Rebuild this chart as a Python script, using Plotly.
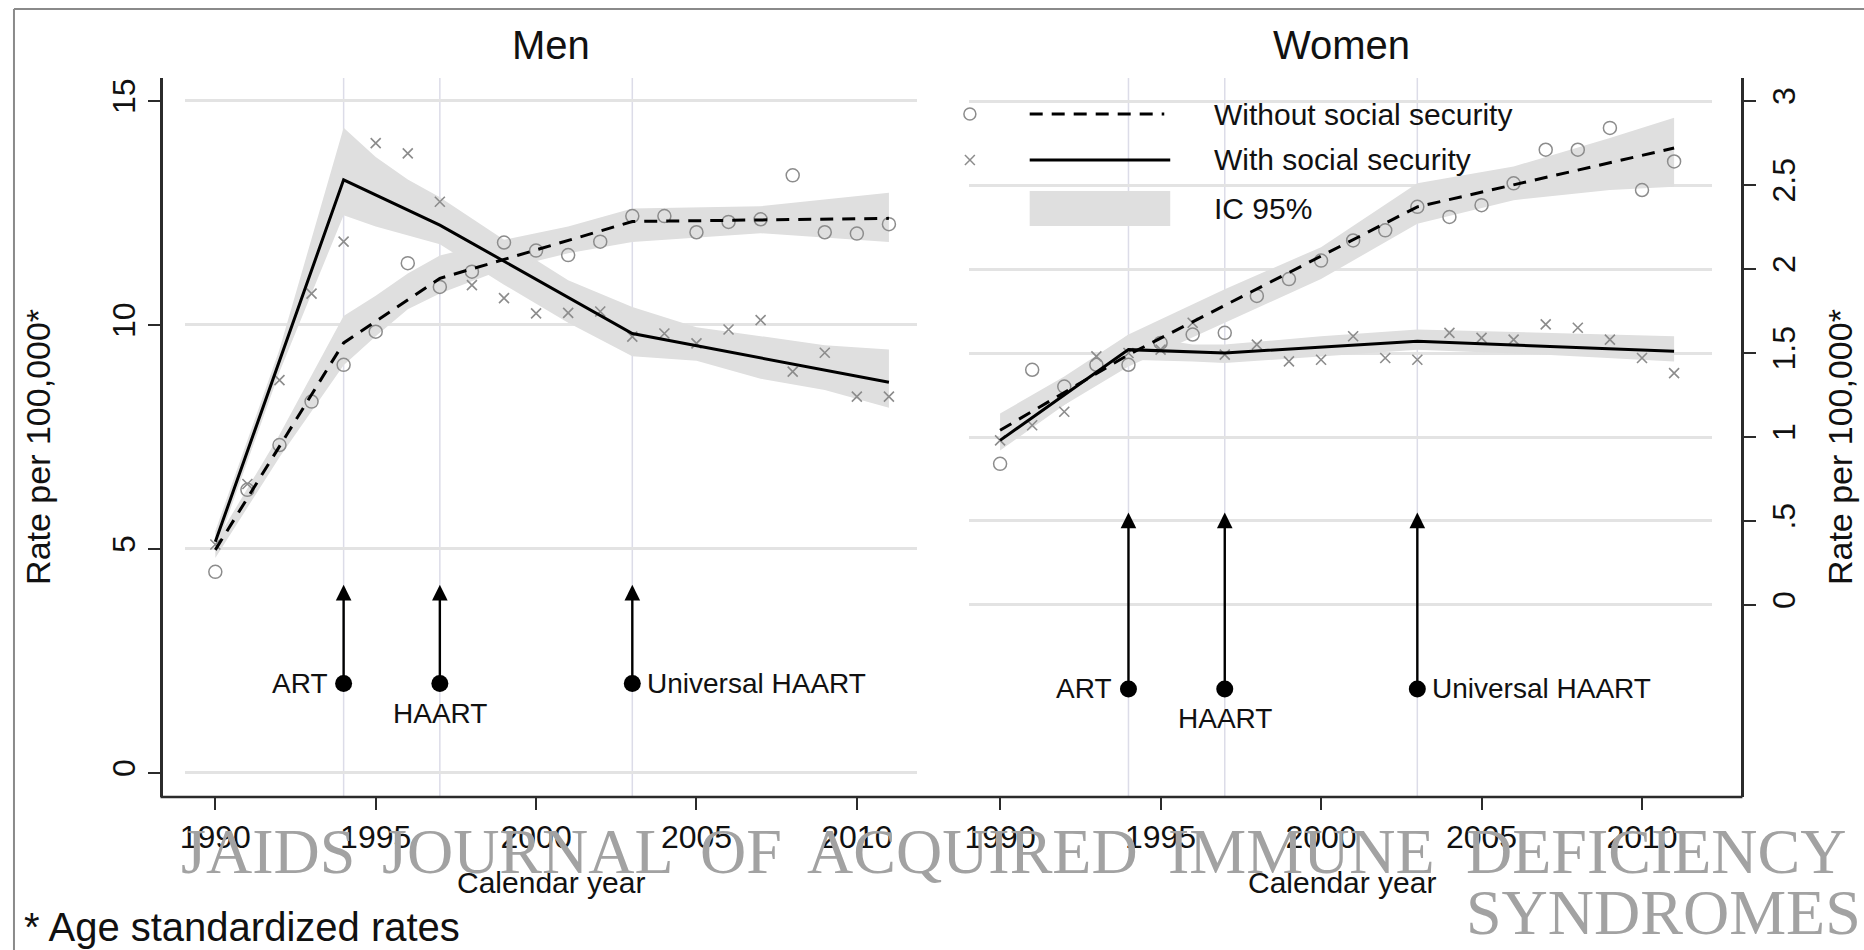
import plotly.graph_objects as go

W, H = 1864, 950

# ---------------- data ----------------
years = list(range(1990, 2012))

men_without = [4.49, 6.32, 7.32, 8.29, 9.11, 9.85, 11.38, 10.85, 11.19, 11.84, 11.66,
               11.56, 11.86, 12.43, 12.43, 12.07, 12.30, 12.36, 13.34, 12.07, 12.04, 12.25]
men_with = [5.10, 6.45, 8.77, 10.70, 11.86, 14.06, 13.83, 12.75, 10.89, 10.60, 10.26,
            10.27, 10.30, 9.74, 9.81, 9.59, 9.90, 10.11, 8.96, 9.38, 8.40, 8.40]
women_without = [0.84, 1.40, 1.30, 1.43, 1.43, 1.56, 1.61, 1.62, 1.84, 1.94, 2.05,
                 2.17, 2.23, 2.37, 2.31, 2.38, 2.51, 2.71, 2.71, 2.84, 2.47, 2.64]
women_with = [0.98, 1.07, 1.15, 1.48, 1.50, 1.52, 1.68, 1.49, 1.55, 1.45, 1.46,
              1.60, 1.47, 1.46, 1.62, 1.59, 1.58, 1.67, 1.65, 1.58, 1.47, 1.38]

# fitted (joinpoint) trends
men_with_fit_years = [1990, 1994, 1997, 2003, 2011]
men_with_fit = [5.16, 13.24, 12.23, 9.81, 8.72]
men_without_fit_years = [1990, 1994, 1997, 2003, 2011]
men_without_fit = [4.98, 9.60, 11.04, 12.31, 12.38]
women_with_fit_years = [1990, 1994, 1997, 2003, 2011]
women_with_fit = [0.98, 1.52, 1.50, 1.57, 1.51]
women_without_fit_years = [1990, 1994, 2003, 2011]
women_without_fit = [1.04, 1.49, 2.37, 2.72]

# 95% confidence bands
men_with_ci_years = [1990, 1992, 1994, 1995, 1996, 1997, 1999, 2001, 2003, 2005, 2007, 2009, 2011]
men_with_ci_lo = [4.95, 8.95, 12.45, 12.20, 12.00, 11.80, 10.90, 10.05, 9.30, 9.20, 8.80, 8.55, 8.15]
men_with_ci_hi = [5.40, 9.45, 14.40, 13.75, 13.25, 12.85, 11.90, 11.00, 10.40, 9.95, 9.75, 9.55, 9.45]
men_without_ci_years = [1990, 1992, 1994, 1995, 1996, 1997, 1999, 2001, 2003, 2007, 2011]
men_without_ci_lo = [4.80, 7.05, 9.10, 9.75, 10.35, 10.70, 11.25, 11.60, 11.85, 12.05, 11.85]
men_without_ci_hi = [5.15, 7.55, 10.20, 10.65, 11.15, 11.55, 11.90, 12.20, 12.60, 12.65, 12.95]
women_with_ci_years = [1990, 1992, 1994, 1996, 1997, 2000, 2003, 2007, 2011]
women_with_ci_lo = [0.92, 1.19, 1.46, 1.45, 1.44, 1.48, 1.52, 1.49, 1.45]
women_with_ci_hi = [1.04, 1.31, 1.61, 1.55, 1.55, 1.60, 1.64, 1.62, 1.60]
women_without_ci_years = [1990, 1992, 1994, 1997, 2000, 2003, 2006, 2009, 2011]
women_without_ci_lo = [0.96, 1.19, 1.42, 1.68, 1.94, 2.27, 2.41, 2.47, 2.49]
women_without_ci_hi = [1.14, 1.36, 1.61, 1.88, 2.13, 2.51, 2.61, 2.78, 2.90]

# treatment milestones
event_years = [1994, 1997, 2003]
event_labels = ["ART", "HAART", "Universal HAART"]
men_arrow_base, men_arrow_tip = 2.0, 4.2
women_arrow_base, women_arrow_tip = -0.5, 0.55

x_ticks = [1990, 1995, 2000, 2005, 2010]
men_y_ticks = [0, 5, 10, 15]
women_y_ticks = [0, 0.5, 1, 1.5, 2, 2.5, 3]
women_y_ticktext = ["0", ".5", "1", "1.5", "2", "2.5", "3"]

# ---------------- styling helpers ----------------
FONT = "Liberation Sans, Arial, Helvetica, sans-serif"
SERIF = "Liberation Serif, Times New Roman, serif"
BAND = "#dfdfdf"
MARK = "#8c8c8c"
GRID = "#e3e3e3"
AXIS = "#2b2b2b"
RIGHT_AXIS_X = 1742


def px(x):
    return x / W


def py(y):
    return 1 - y / H


fig = go.Figure()

panels = [
    ("x", "y", men_with_ci_years, men_with_ci_lo, men_with_ci_hi,
     men_without_ci_years, men_without_ci_lo, men_without_ci_hi,
     men_without, men_with, men_with_fit_years, men_with_fit,
     men_without_fit_years, men_without_fit, men_arrow_base),
    ("x2", "y2", women_with_ci_years, women_with_ci_lo, women_with_ci_hi,
     women_without_ci_years, women_without_ci_lo, women_without_ci_hi,
     women_without, women_with, women_with_fit_years, women_with_fit,
     women_without_fit_years, women_without_fit, women_arrow_base),
]

for (xa, ya, wy, wlo, whi, oy, olo, ohi, pts_o, pts_x, fwy, fw, foy, fo, base) in panels:
    for cy, lo, hi in [(wy, wlo, whi), (oy, olo, ohi)]:
        fig.add_trace(go.Scatter(
            x=cy + cy[::-1], y=hi + lo[::-1], fill="toself", fillcolor=BAND,
            mode="lines", line=dict(width=0, color=BAND), hoverinfo="skip",
            showlegend=False, xaxis=xa, yaxis=ya))
    fig.add_trace(go.Scatter(
        x=years, y=pts_o, mode="markers",
        marker=dict(symbol="circle-open", size=13, color=MARK, line=dict(width=1.5, color=MARK)),
        showlegend=False, xaxis=xa, yaxis=ya))
    fig.add_trace(go.Scatter(
        x=years, y=pts_x, mode="markers",
        marker=dict(symbol="x-thin-open", size=10, color=MARK, line=dict(width=1.6, color=MARK)),
        showlegend=False, xaxis=xa, yaxis=ya))
    fig.add_trace(go.Scatter(
        x=foy, y=fo, mode="lines", line=dict(color="black", width=3, dash="13px,9px"),
        showlegend=False, xaxis=xa, yaxis=ya))
    fig.add_trace(go.Scatter(
        x=fwy, y=fw, mode="lines", line=dict(color="black", width=3),
        showlegend=False, xaxis=xa, yaxis=ya))
    fig.add_trace(go.Scatter(
        x=event_years, y=[base] * len(event_years), mode="markers",
        marker=dict(size=17, color="black"), showlegend=False, xaxis=xa, yaxis=ya))

annotations = []
shapes = []

# milestone arrows, labels and reference lines
for xa, ya, base, tip in [("x", "y", men_arrow_base, men_arrow_tip),
                          ("x2", "y2", women_arrow_base, women_arrow_tip)]:
    for yr, lab in zip(event_years, event_labels):
        annotations.append(dict(
            x=yr, y=tip, ax=yr, ay=base, xref=xa, yref=ya, axref=xa, ayref=ya,
            text="", showarrow=True, arrowhead=2, arrowsize=1.3, arrowwidth=2.4,
            arrowcolor="black", standoff=0, startstandoff=0))
        shapes.append(dict(type="line", xref=xa, yref=ya + " domain", x0=yr, x1=yr,
                           y0=0, y1=1, line=dict(color="#dcdce8", width=1.5), layer="below"))
    for yr, lab in zip(event_years, event_labels):
        if lab == "ART":
            annotations.append(dict(x=yr, y=base, xref=xa, yref=ya, text=lab, showarrow=False,
                                    xanchor="right", yanchor="middle", xshift=-14,
                                    font=dict(family=FONT, size=28, color="#111")))
        elif lab == "HAART":
            annotations.append(dict(x=yr, y=base, xref=xa, yref=ya, text=lab, showarrow=False,
                                    xanchor="center", yanchor="middle", yshift=-30,
                                    font=dict(family=FONT, size=28, color="#111")))
        else:
            annotations.append(dict(x=yr, y=base, xref=xa, yref=ya, text=lab, showarrow=False,
                                    xanchor="left", yanchor="middle", xshift=13,
                                    font=dict(family=FONT, size=28, color="#111")))

# panel titles
for cx, t in [(547, "Men"), (1340, "Women")]:
    annotations.append(dict(x=px(cx), y=py(45), xref="paper", yref="paper", text=t,
                            showarrow=False, xanchor="center", yanchor="middle",
                            font=dict(family=FONT, size=40, color="#111")))
    annotations.append(dict(x=px(cx), y=py(882), xref="paper", yref="paper", text="Calendar year",
                            showarrow=False, xanchor="center", yanchor="middle",
                            font=dict(family=FONT, size=30, color="#111")))

# axis titles
for cx in [32, 1840]:
    annotations.append(dict(x=px(cx), y=py(447), xref="paper", yref="paper",
                            text="Rate per 100,000*", textangle=-90, showarrow=False,
                            xanchor="center", yanchor="middle",
                            font=dict(family=FONT, size=34, color="#111")))

# footnote
annotations.append(dict(x=px(16), y=py(927), xref="paper", yref="paper",
                        text="* Age standardized rates", showarrow=False,
                        xanchor="left", yanchor="middle",
                        font=dict(family=FONT, size=40, color="#111")))

# legend (inside women panel)
shapes += [
    dict(type="circle", xref="paper", yref="paper", x0=px(961), x1=px(973), y0=py(120), y1=py(108),
         line=dict(color=MARK, width=1.5)),
    dict(type="line", xref="paper", yref="paper", x0=px(1027), x1=px(1162), y0=py(114), y1=py(114),
         line=dict(color="black", width=3, dash="13px,9px")),
    dict(type="line", xref="paper", yref="paper", x0=px(962), x1=px(972), y0=py(155), y1=py(165),
         line=dict(color=MARK, width=1.5)),
    dict(type="line", xref="paper", yref="paper", x0=px(962), x1=px(972), y0=py(165), y1=py(155),
         line=dict(color=MARK, width=1.5)),
    dict(type="line", xref="paper", yref="paper", x0=px(1027), x1=px(1168), y0=py(160), y1=py(160),
         line=dict(color="black", width=3)),
    dict(type="rect", xref="paper", yref="paper", x0=px(1027), x1=px(1168), y0=py(226), y1=py(191),
         fillcolor=BAND, line=dict(width=0)),
]
for ty, t in [(114, "Without social security"), (160, "With social security"), (208, "IC 95%")]:
    annotations.append(dict(x=px(1210), y=py(ty), xref="paper", yref="paper", text=t,
                            showarrow=False, xanchor="left", yanchor="middle",
                            font=dict(family=FONT, size=30, color="#111")))

# x axis baseline and outer frame
shapes += [
    dict(type="line", xref="paper", yref="paper", x0=px(155), x1=px(RIGHT_AXIS_X), y0=py(797), y1=py(797),
         line=dict(color=AXIS, width=2.5), layer="above"),
    dict(type="line", xref="paper", yref="paper", x0=px(8), x1=1, y0=py(9), y1=py(9),
         line=dict(color="#8a8a8a", width=2)),
    dict(type="line", xref="paper", yref="paper", x0=px(8), x1=px(8), y0=py(9), y1=0,
         line=dict(color="#8a8a8a", width=2)),
]

# journal watermark
for cx, w in [(263, "JAIDS"), (524, "JOURNAL"), (737, "OF"), (970, "ACQUIRED"),
              (1300, "IMMUNE"), (1655, "DEFICIENCY")]:
    annotations.append(dict(x=px(cx), y=py(851), xref="paper", yref="paper", text=w,
                            showarrow=False, xanchor="center", yanchor="middle",
                            font=dict(family=SERIF, size=64, color="#a2a2a2")))
annotations.append(dict(x=px(1663), y=py(912), xref="paper", yref="paper", text="SYNDROMES",
                        showarrow=False, xanchor="center", yanchor="middle",
                        font=dict(family=SERIF, size=64, color="#a2a2a2")))

ydom = [py(797), py(78)]
common_x = dict(tickvals=x_ticks, ticks="outside", ticklen=12, tickwidth=2, tickcolor=AXIS,
                showgrid=False, showline=False, zeroline=False,
                tickfont=dict(family=FONT, size=32, color="#111"))
common_y = dict(ticks="outside", ticklen=12, tickwidth=2, tickcolor=AXIS, showline=True,
                linecolor=AXIS, linewidth=2.5, showgrid=True, gridcolor=GRID, gridwidth=3,
                zeroline=False, tickangle=-90, anchor="free", domain=ydom,
                tickfont=dict(family=FONT, size=32, color="#111"))

fig.update_layout(
    width=W, height=H, margin=dict(l=0, r=0, t=0, b=0),
    paper_bgcolor="white", plot_bgcolor="white", showlegend=False,
    xaxis=dict(domain=[px(180), px(914)], range=[1989.068, 2011.877], anchor="y", **common_x),
    xaxis2=dict(domain=[px(966), px(1712)], range=[1989.028, 2012.196], anchor="y2", **common_x),
    yaxis=dict(range=[-0.536, 15.513], tickvals=men_y_ticks, position=px(155), side="left", **common_y),
    yaxis2=dict(range=[-1.143, 3.137], tickvals=women_y_ticks, ticktext=women_y_ticktext,
                position=px(RIGHT_AXIS_X), side="right", **common_y),
    annotations=annotations, shapes=shapes,
)

fig.write_html("out.html")
